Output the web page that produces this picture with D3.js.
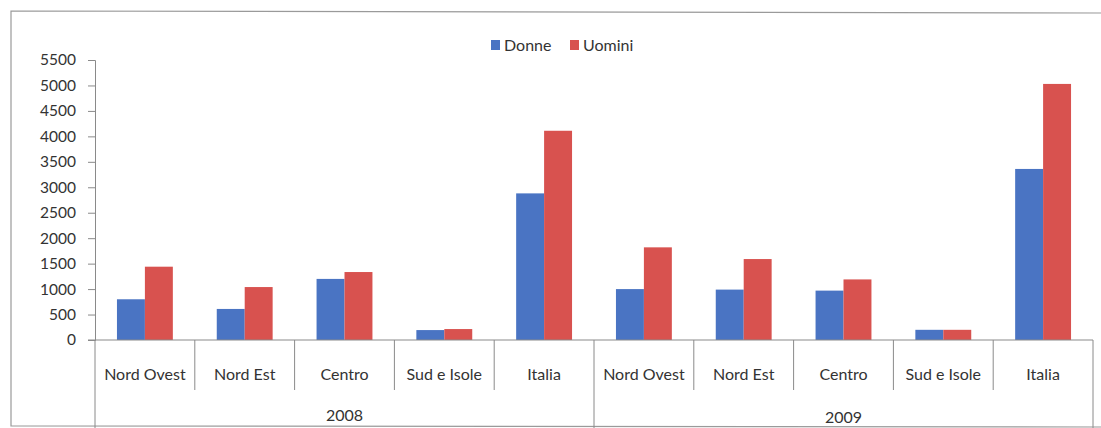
<!DOCTYPE html>
<html><head><meta charset="utf-8">
<script src="https://cdn.jsdelivr.net/npm/d3@7"></script>
<style>html,body{margin:0;padding:0;background:#fff;}svg{display:block;}</style>
</head><body>
<svg id="c" width="1101" height="428"></svg>
<script>
const years = ["2008", "2009"];
const regions = ["Nord Ovest", "Nord Est", "Centro", "Sud e Isole", "Italia"];
const series = ["Donne", "Uomini"];
const donne = [800, 610, 1200, 195, 2880, 1000, 990, 970, 200, 3360];
const uomini = [1440, 1040, 1335, 215, 4110, 1820, 1590, 1190, 200, 5030];
const yTicks = [0, 500, 1000, 1500, 2000, 2500, 3000, 3500, 4000, 4500, 5000, 5500];
const colors = ["#4a74c3", "#d8524f"];

const svg = d3.select("#c");
const font = "Lato, 'Open Sans', sans-serif";
const textCol = "#333333";
const lineCol = "#8a8a8a";

const cats = [];
years.forEach(y => regions.forEach(r => cats.push(y + "|" + r)));
const values = cats.map((c, i) => ({cat: c, vals: [donne[i], uomini[i]]}));

const x0 = d3.scaleBand().domain(cats).range([95, 1093]).paddingInner(0).paddingOuter(0);
const x1 = d3.scaleBand().domain(series).range([x0.bandwidth() * 0.22, x0.bandwidth() * 0.78]);
const y = d3.scaleLinear().domain([0, 5500]).range([340, 60]);

// outer border
svg.append("path")
  .attr("d", "M1101,13 L11,11 L11,426 L1101,427")
  .attr("fill", "none").attr("stroke", "#9a9a9a").attr("stroke-width", 1.2);

// bars
const g = svg.append("g");
g.selectAll("g.grp").data(values).join("g")
  .attr("transform", d => `translate(${x0(d.cat)},0)`)
  .selectAll("rect").data(d => d.vals.map((v, i) => ({s: series[i], v, i})))
  .join("rect")
  .attr("x", d => x1(d.s))
  .attr("width", x1.bandwidth())
  .attr("y", d => y(d.v))
  .attr("height", d => y(0) - y(d.v))
  .attr("fill", d => colors[d.i]);

// y axis
const yAxis = d3.axisLeft(y).tickValues(yTicks).tickSize(7).tickPadding(12).tickFormat(d3.format("d"));
const ya = svg.append("g").attr("transform", "translate(95,0)").call(yAxis);
ya.select(".domain").attr("stroke", lineCol);
ya.selectAll(".tick line").attr("stroke", lineCol);
ya.selectAll(".tick text").attr("font-family", font).attr("font-size", "15.5px").attr("fill", textCol);

// baseline
svg.append("line").attr("x1", 88).attr("x2", 1093).attr("y1", y(0)).attr("y2", y(0))
  .attr("stroke", lineCol).attr("stroke-width", 1);

// category separators
const seps = cats.map(c => x0(c)).concat([x0.range()[1]]);
seps.forEach((sx, i) => {
  const isYear = (i % regions.length === 0);
  svg.append("line").attr("x1", sx).attr("x2", sx)
    .attr("y1", y(0)).attr("y2", isYear ? 428 : 390)
    .attr("stroke", lineCol).attr("stroke-width", 1);
});

// category labels
svg.append("g").selectAll("text").data(cats).join("text")
  .attr("x", d => x0(d) + x0.bandwidth() / 2)
  .attr("y", 380)
  .attr("text-anchor", "middle")
  .attr("font-family", font).attr("font-size", "16px").attr("fill", textCol)
  .text(d => d.split("|")[1]);

// year labels
svg.append("g").selectAll("text").data(years).join("text")
  .attr("x", (d, i) => (x0(d + "|" + regions[0]) + x0(d + "|" + regions[regions.length - 1]) + x0.bandwidth()) / 2)
  .attr("y", (d, i) => i === 0 ? 421 : 423)
  .attr("text-anchor", "middle")
  .attr("font-family", font).attr("font-size", "16px").attr("fill", textCol)
  .text(d => d);

// legend
const leg = svg.append("g");
const legX = [491, 570];
series.forEach((s, i) => {
  leg.append("rect").attr("x", legX[i]).attr("y", 40).attr("width", 9).attr("height", 10).attr("fill", colors[i]);
  leg.append("text").attr("x", legX[i] + 13).attr("y", 51)
    .attr("font-family", font).attr("font-size", "16px").attr("fill", textCol).text(s);
});
</script>
</body></html>
